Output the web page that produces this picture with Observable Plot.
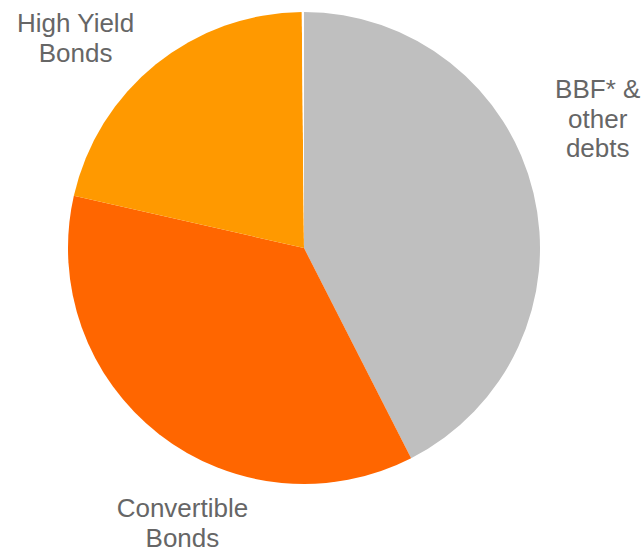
<!DOCTYPE html>
<html>
<head>
<meta charset="utf-8">
<script src="https://cdn.jsdelivr.net/npm/d3@7"></script>
<script src="https://cdn.jsdelivr.net/npm/@observablehq/plot@0.6"></script>
<style>
  html, body { margin: 0; padding: 0; background: #ffffff; }
  #chart svg { display: block; }
</style>
</head>
<body>
<div id="chart"></div>
<script>
// Data, clockwise from 12 o'clock
const categories = ["BBF* & other debts", "Convertible Bonds", "High Yield Bonds", "Other"];
const shares = [42.5, 36.05, 21.3, 0.15];
const labels = ["BBF* &\nother\ndebts", "Convertible\nBonds", "High Yield\nBonds", ""];
const colors = ["#BFBFBF", "#FF6600", "#FF9900", "#FFFFFF"];

// Layout (label placement around the pie, in degrees clockwise from top / radius factor)
const labelAngle = [66, 204, 312.7, 0];
const labelRadius = [1.36, 1.272, 1.32, 0];

const idx = d3.range(categories.length);
const rad = a => a * Math.PI / 180;

const chart = Plot.plot({
  width: 644,
  height: 553,
  margin: 0,
  style: {background: "#ffffff"},
  x: {domain: [-1, 1], range: [68, 540], axis: null},
  y: {domain: [-1, 1], range: [484, 12], axis: null},
  color: {domain: categories, range: colors},
  marks: [
    Plot.dot(idx, {
      x: () => 0,
      y: () => 0,
      fill: i => categories[i],
      render(index, scales, values) {
        const cx = scales.x(0), cy = scales.y(0);
        const R = Math.abs(scales.x(1) - scales.x(0));
        const arcs = d3.pie().sort(null).value(i => shares[i])(index);
        const g = d3.create("svg:g").attr("transform", `translate(${cx},${cy})`);
        g.selectAll("path")
          .data(arcs)
          .join("path")
          .attr("d", d3.arc().innerRadius(0).outerRadius(R))
          .attr("fill", a => values.fill[a.data]);
        return g.node();
      }
    }),
    Plot.text(idx.filter(i => labels[i]), {
      x: i => labelRadius[i] * Math.sin(rad(labelAngle[i])),
      y: i => labelRadius[i] * Math.cos(rad(labelAngle[i])),
      text: i => labels[i],
      fontSize: 26,
      lineHeight: 1.15,
      fill: "#666666",
      fontFamily: "'Liberation Sans', Arial, sans-serif",
      textAnchor: "middle"
    })
  ]
});
document.getElementById("chart").appendChild(chart);
</script>
</body>
</html>
